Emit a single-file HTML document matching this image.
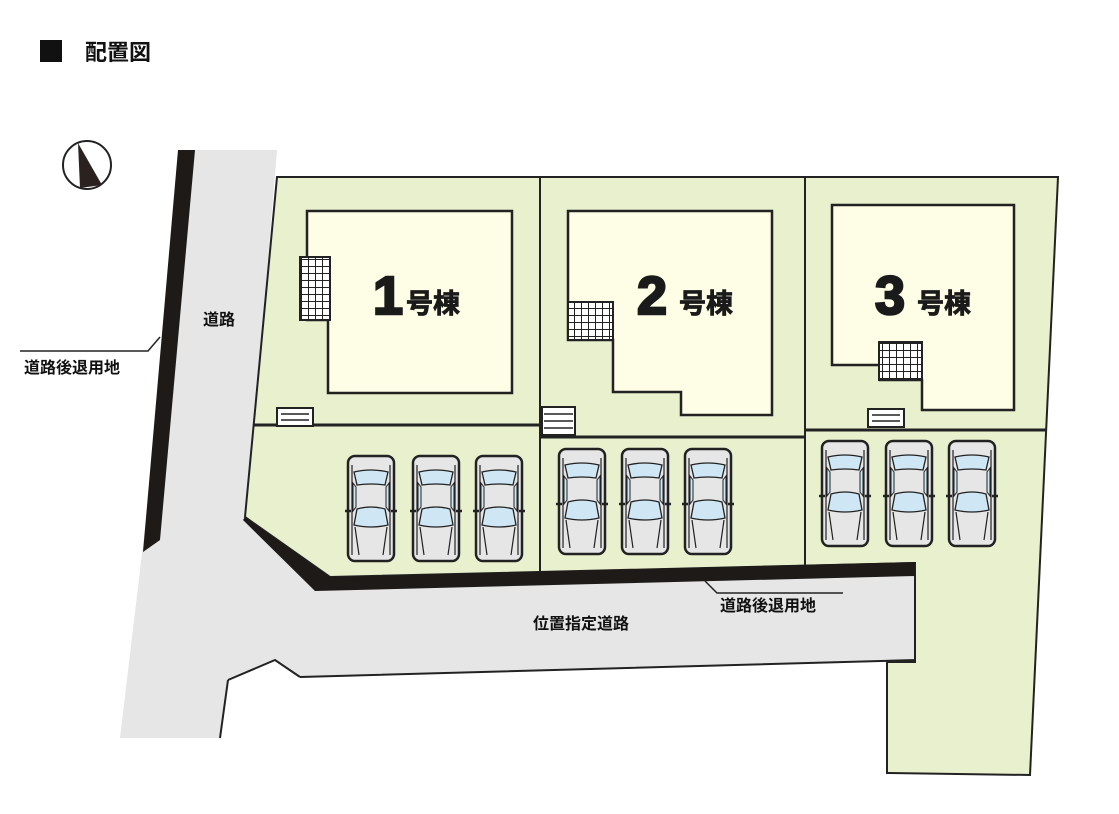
<!DOCTYPE html>
<html><head><meta charset="utf-8"><style>
html,body{margin:0;padding:0;background:#fff;}
svg{display:block;}
text{font-family:"Liberation Sans","Noto Sans CJK JP",sans-serif;font-weight:bold;}
</style></head><body>
<svg width="1119" height="814" viewBox="0 0 1119 814" xmlns="http://www.w3.org/2000/svg">
<defs>
<pattern id="grid" width="7" height="7" patternUnits="userSpaceOnUse">
<rect width="7" height="7" fill="#fff"/><path d="M0 0H7M0 0V7" stroke="#222" stroke-width="2"/>
</pattern>
<g id="car">
<rect x="1" y="1" width="46" height="105" rx="7" fill="#e6e6e6" stroke="#222" stroke-width="2.5"/>
<path d="M5 10 L5 100 M43 10 L43 100" stroke="#222" stroke-width="1.2"/>
<path d="M7 17 Q24 13 41 17 L38 30 Q24 28 10 30 Z" fill="#cfe6f5" stroke="#222" stroke-width="1.3"/>
<path d="M10 54 Q24 50 38 54 L41 70 Q24 74 7 70 Z" fill="#cfe6f5" stroke="#222" stroke-width="1.3"/>
<path d="M6 28 L9 32 L9 52 L6 56 Z M42 28 L39 32 L39 52 L42 56 Z" fill="#cfe6f5" stroke="#222" stroke-width="1"/>
<path d="M8 72 L12 100 M40 72 L36 100" stroke="#222" stroke-width="1.2"/>
<path d="M-2 56 L4 56 M44 56 L50 56" stroke="#222" stroke-width="2.5"/>
</g>
<g id="steps">
<rect x="0" y="0" width="36" height="18" fill="#fff" stroke="#222" stroke-width="2"/>
<path d="M4 6H32M4 12H32" stroke="#222" stroke-width="1.5"/>
</g>
</defs>

<rect x="40" y="40" width="22" height="22" fill="#111"/>
<text x="85" y="60" font-size="22" fill="#111">配置図</text>

<circle cx="87" cy="165" r="24" fill="#fff" stroke="#222" stroke-width="2"/>
<path d="M78 143 L80 188 L102 185 Z" fill="#2b2220"/>

<polygon points="190,150 277,150 247,517 330,577 300,677 275,660 228,680 220,738 120,738" fill="#e6e6e6"/>
<polygon points="178,150 195,150 160,540 143,552" fill="#1e1a18"/>
<polygon points="277,177 1058,177 1030,775 887,773 887,662 915,662 915,563 330,577 245,517" fill="#e8f0ce" stroke="#222" stroke-width="2"/>
<polygon points="315,590 915,576 915,660 300,677 275,660 228,680 230,650" fill="#e6e6e6"/>
<path d="M300 677 L915 660 L915 576" fill="none" stroke="#222" stroke-width="2"/>
<path d="M228 680 L275 660 L300 677" stroke="#222" stroke-width="2" fill="none"/>
<path d="M228 680 L220 738" stroke="#222" stroke-width="2" fill="none"/>
<polygon points="245,517 330,577 915,562 915,576 315,591 243,520" fill="#1e1a18"/>

<path d="M540 177V572 M805 177V565" stroke="#222" stroke-width="2"/>
<path d="M253 425H540 M540 437H805 M805 430H1046" stroke="#222" stroke-width="3"/>

<polygon points="307,211 512,211 512,393 328,393 328,320 307,320" fill="#fefde6" stroke="#222" stroke-width="2.5"/>
<rect x="300" y="257" width="30" height="63" fill="url(#grid)" stroke="#222" stroke-width="2"/>
<polygon points="568,211 772,211 772,415 681,415 681,392 613,392 613,340 568,340" fill="#fefde6" stroke="#222" stroke-width="2.5"/>
<rect x="568" y="302" width="45" height="38" fill="url(#grid)" stroke="#222" stroke-width="2"/>
<polygon points="832,205 1014,205 1014,410 922,410 922,380 880,380 880,365 832,365" fill="#fefde6" stroke="#222" stroke-width="2.5"/>
<rect x="879" y="342" width="43" height="38" fill="url(#grid)" stroke="#222" stroke-width="2"/>

<g fill="#1a1a1a" stroke="#1a1a1a">
<text x="373" y="314" font-size="54" stroke-width="2.5">1</text><text x="406" y="313" font-size="27" stroke-width="0.8">号棟</text>
<text x="637" y="314" font-size="54" stroke-width="2.5">2</text><text x="679" y="313" font-size="27" stroke-width="0.8">号棟</text>
<text x="875" y="314" font-size="54" stroke-width="2.5">3</text><text x="917" y="313" font-size="27" stroke-width="0.8">号棟</text>
</g>

<use href="#steps" x="277" y="408"/>
<rect x="542" y="407" width="33" height="28" fill="#fff" stroke="#222" stroke-width="2"/>
<path d="M544 414H573M544 421H573M544 428H573" stroke="#222" stroke-width="1.5"/>
<use href="#steps" x="868" y="409"/>

<use href="#car" x="347" y="455"/><use href="#car" x="412" y="455"/><use href="#car" x="475" y="455"/>
<use href="#car" x="558" y="448"/><use href="#car" x="621" y="448"/><use href="#car" x="684" y="448"/>
<use href="#car" x="821" y="440"/><use href="#car" x="885" y="440"/><use href="#car" x="948" y="440"/>

<text x="203" y="325" font-size="16" fill="#111">道路</text>
<path d="M20 351 L148 351 L160 337" stroke="#222" stroke-width="1.5" fill="none"/>
<text x="24" y="373" font-size="16" fill="#111">道路後退用地</text>
<text x="533" y="629" font-size="16" fill="#111">位置指定道路</text>
<path d="M705 581 L717 593 L843 593" stroke="#222" stroke-width="1.5" fill="none"/>
<text x="720" y="611" font-size="16" fill="#111">道路後退用地</text>
</svg>
</body></html>
